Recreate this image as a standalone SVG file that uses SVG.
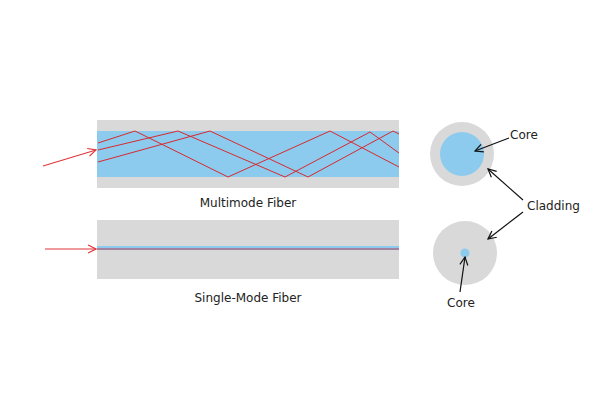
<svg xmlns="http://www.w3.org/2000/svg" width="600" height="400" viewBox="0 0 600 400">
<style>
.clad{fill:#d9d9d9}.core{fill:#8ccbed}
.ray{fill:none;stroke:#d8292f;stroke-width:1}
.lbl{font-family:"DejaVu Sans",sans-serif;font-size:12px;fill:#222}
.bk{stroke:#111;stroke-width:1.2;fill:none;marker-end:url(#ab)}
.rd{stroke:#e0353a;stroke-width:1.2;fill:none;marker-end:url(#ar)}
</style>
<defs>
<marker id="ab" markerWidth="10" markerHeight="10" refX="9" refY="5" orient="auto" markerUnits="userSpaceOnUse"><path d="M1,1 L9,5 L1,9" fill="none" stroke="#111" stroke-width="1.2"/></marker>
<marker id="ar" markerWidth="10" markerHeight="10" refX="9" refY="5" orient="auto" markerUnits="userSpaceOnUse"><path d="M1,1 L9,5 L1,9" fill="none" stroke="#e0353a" stroke-width="1.2"/></marker>
</defs>
<rect width="600" height="400" fill="#fff"/>
<g id="multimode">
<rect class="clad" x="97" y="120" width="302" height="68"/>
<rect class="core" x="97" y="131" width="302" height="46"/>
<polyline class="ray" points="98,143 135,131 228,177 330,131 399,167"/>
<polyline class="ray" points="98,150 178,131 285,177 370,132 399,153"/>
<polyline class="ray" points="98,162 210,131 308,177 393,131 399,134"/>
<text class="lbl" x="248" y="207" text-anchor="middle">Multimode Fiber</text>
</g>
<g id="singlemode">
<rect class="clad" x="97" y="220" width="302" height="59"/>
<rect class="core" x="97" y="246" width="302" height="4"/>
<line x1="97" y1="249" x2="399" y2="249" stroke="#b83a55" stroke-width="1"/>
<text class="lbl" x="248" y="302" text-anchor="middle">Single-Mode Fiber</text>
</g>
<g id="mm-cross">
<circle class="clad" cx="462" cy="154" r="32"/>
<circle class="core" cx="462" cy="154" r="22"/>
</g>
<g id="sm-cross">
<circle class="clad" cx="465" cy="253" r="32"/>
<circle class="core" cx="465" cy="253" r="4.5"/>
</g>
<g id="labels">
<text class="lbl" x="510" y="139">Core</text>
<text class="lbl" x="527" y="210">Cladding</text>
<text class="lbl" x="447" y="307">Core</text>
</g>
<g id="connectors">
<line class="rd" x1="43" y1="166" x2="96" y2="150"/>
<line class="rd" x1="45" y1="249" x2="96" y2="249"/>
<line class="bk" x1="509" y1="138" x2="475" y2="151"/>
<line class="bk" x1="523" y1="200" x2="488" y2="169"/>
<line class="bk" x1="523" y1="212" x2="488" y2="239"/>
<line class="bk" x1="460" y1="292" x2="465" y2="257"/>
</g>
</svg>
